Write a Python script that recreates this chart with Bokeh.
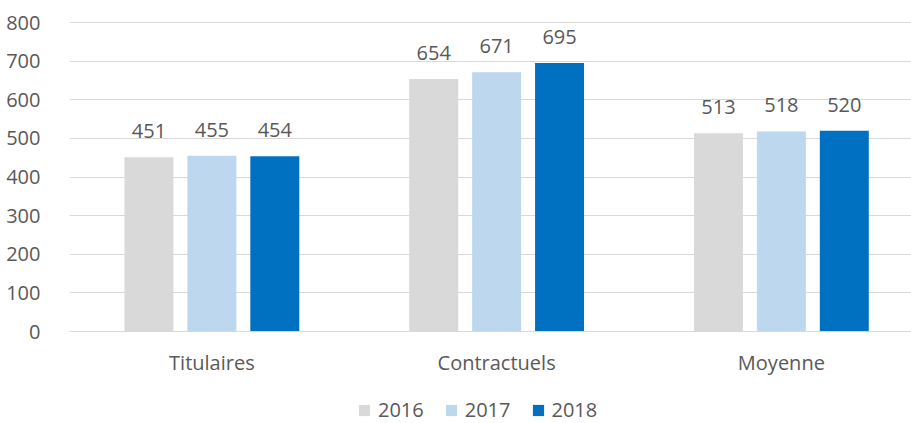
from bokeh.plotting import figure
from bokeh.models import Range1d, FixedTicker, ColumnDataSource, Legend, LegendItem
from bokeh.core.properties import value
from bokeh.embed import file_html
from bokeh.resources import INLINE

categories = ["Titulaires", "Contractuels", "Moyenne"]
years = ["2016", "2017", "2018"]
v2016 = [451, 654, 513]
v2017 = [455, 671, 518]
v2018 = [454, 695, 520]
y_ticks = [0, 100, 200, 300, 400, 500, 600, 700, 800]

colors = ["#D9D9D9", "#BDD7EE", "#0070C0"]
offsets = [-0.221, 0.0, 0.221]
FONT = "Open Sans"
TXT = "#595959"

p = figure(width=911, height=423, output_backend="svg", toolbar_location=None,
           x_range=Range1d(0, 2.957), y_range=Range1d(-238.2, 810.4),
           min_border_left=69, min_border_right=0, min_border_top=18, min_border_bottom=0)
p.outline_line_color = None
p.background_fill_color = "white"

centers = [i + 0.5 for i in range(len(categories))]
renderers = []
for vals, col, off, yr in zip([v2016, v2017, v2018], colors, offsets, years):
    src = ColumnDataSource(dict(x=[c + off for c in centers], top=vals,
                                lab=[str(v) for v in vals]))
    r = p.vbar(x="x", top="top", width=0.172, bottom=0, source=src,
               fill_color=col, line_color=None)
    renderers.append((yr, r))
    p.text(x="x", y="top", text="lab", source=src, text_align="center",
           text_baseline="alphabetic", y_offset=-26, text_font=value(FONT),
           text_font_size="20px", text_color=TXT)

p.xaxis.fixed_location = 0
p.xaxis.ticker = FixedTicker(ticks=centers)
p.xaxis.major_label_overrides = {c: n for c, n in zip(centers, categories)}
p.xaxis.major_tick_line_color = None
p.xaxis.minor_tick_line_color = None
p.xaxis.axis_line_color = "#D9D9D9"
p.xaxis.major_label_standoff = 11
p.xaxis.major_label_text_font = FONT
p.xaxis.major_label_text_font_size = "20px"
p.xaxis.major_label_text_color = TXT

p.yaxis.ticker = FixedTicker(ticks=y_ticks)
p.yaxis.axis_line_color = None
p.yaxis.major_tick_line_color = None
p.yaxis.minor_tick_line_color = None
p.yaxis.major_label_standoff = 23
p.yaxis.major_label_text_font = FONT
p.yaxis.major_label_text_font_size = "20px"
p.yaxis.major_label_text_color = TXT

p.xgrid.grid_line_color = None
p.ygrid.ticker = FixedTicker(ticks=y_ticks)
p.ygrid.grid_line_color = "#D9D9D9"
p.ygrid.grid_line_width = 1

legend = Legend(items=[LegendItem(label=yr, renderers=[r]) for yr, r in renderers],
                orientation="horizontal", location=(288, 0),
                glyph_width=14, glyph_height=14, label_standoff=7, spacing=20,
                padding=0, margin=0, border_line_color=None, background_fill_alpha=0,
                label_text_font=FONT, label_text_font_size="20px", label_text_color=TXT)
p.add_layout(legend, "center")

open("out.html", "w").write(file_html(p, INLINE))
